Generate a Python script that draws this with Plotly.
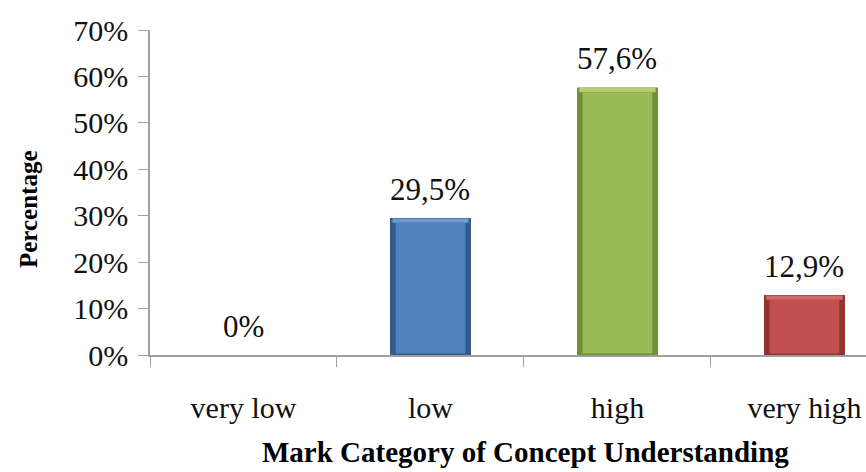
import plotly.graph_objects as go

# Share of students in each mark category (percent)
categories = ["very low", "low", "high", "very high"]
percentages = [0.0, 29.5, 57.6, 12.9]
tick_values = [0, 10, 20, 30, 40, 50, 60, 70]
tick_labels = [f"{v}%" for v in tick_values]

face_colors = ["#4F81BD", "#4F81BD", "#9BBB59", "#C0504D"]
edge_colors = ["#34598A", "#34598A", "#718F36", "#93322F"]
light_colors = ["#6F9AD0", "#6F9AD0", "#B2D06E", "#D46A66"]

FONT = "Liberation Serif, Times New Roman, serif"
BAR_W = 0.433

fig = go.Figure()

# dark outer body gives the bevelled side edges
fig.add_trace(go.Bar(
    x=categories, y=percentages, width=BAR_W,
    marker=dict(color=edge_colors, line=dict(width=0)),
    hoverinfo="skip", showlegend=False,
))
# light top bevel strip
fig.add_trace(go.Bar(
    x=categories, y=[0.9 if v > 0 else 0 for v in percentages],
    base=[v - 1.0 if v > 0 else 0 for v in percentages],
    width=BAR_W - 0.025,
    marker=dict(color=light_colors, line=dict(width=0)),
    hoverinfo="skip", showlegend=False,
))
# main face of each bar
fig.add_trace(go.Bar(
    x=categories, y=[max(v - 1.4, 0) for v in percentages],
    base=[0.35 if v > 0 else 0 for v in percentages],
    width=BAR_W - 0.06,
    marker=dict(color=face_colors, line=dict(width=0)),
    hoverinfo="skip", showlegend=False,
))

fig.update_layout(barmode="overlay")

# value labels above the bars
for cat, v in zip(categories, percentages):
    txt = (f"{v:.1f}".replace(".", ",") if v % 1 else f"{int(v)}") + "%"
    fig.add_annotation(
        x=cat, y=v, text=txt, showarrow=False,
        yanchor="middle", yshift=29,
        font=dict(family=FONT, size=31, color="#111111"),
    )

# axis titles
fig.add_annotation(
    xref="paper", yref="paper", x=0.525, y=-0.298,
    text="<b>Mark Category of Concept Understanding</b>", showarrow=False,
    xanchor="center", yanchor="middle",
    font=dict(family=FONT, size=29, color="#000000"),
)
fig.add_annotation(
    xref="paper", yref="paper", x=-0.17, y=0.45,
    text="<b>Percentage</b>", showarrow=False, textangle=-90,
    xanchor="center", yanchor="middle",
    font=dict(family=FONT, size=25, color="#000000"),
)

fig.update_xaxes(
    type="category", range=[-0.5, 3.329],
    tickson="boundaries", ticks="outside", ticklen=10, tickcolor="#A0A0A0",
    showline=True, linecolor="#A0A0A0", linewidth=1.5,
    showgrid=False, zeroline=False,
    ticklabelstandoff=25,
    tickfont=dict(family=FONT, size=30, color="#111111"),
)
fig.update_yaxes(
    range=[0, 70], tickvals=tick_values, ticktext=tick_labels,
    ticks="outside", ticklen=10, tickcolor="#A0A0A0",
    showline=True, linecolor="#A0A0A0", linewidth=1.5,
    showgrid=False, zeroline=False,
    ticklabelstandoff=4,
    tickfont=dict(family=FONT, size=30, color="#111111"),
)

fig.update_layout(
    width=866, height=472,
    margin=dict(l=150, r=0, t=30, b=117),
    paper_bgcolor="white", plot_bgcolor="white",
)

fig.write_html("out.html")
